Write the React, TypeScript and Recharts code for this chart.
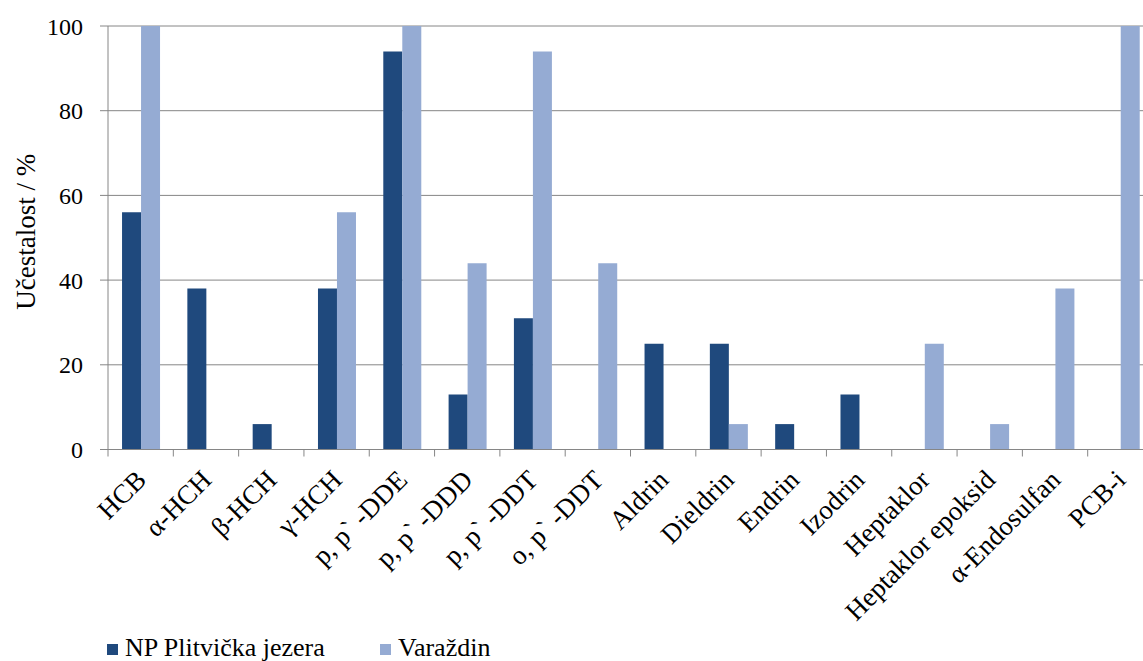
import React from 'react';
import { BarChart, Bar, XAxis, YAxis, CartesianGrid, Legend } from 'recharts';

const categories = [
  'HCB', 'α-HCH', 'β-HCH', 'γ-HCH', 'p, p` -DDE', 'p, p` -DDD', 'p, p` -DDT', 'o, p` -DDT',
  'Aldrin', 'Dieldrin', 'Endrin', 'Izodrin', 'Heptaklor', 'Heptaklor epoksid', 'α-Endosulfan', 'PCB-i',
];
const plitvice = [56, 38, 6, 38, 94, 13, 31, 0, 25, 25, 6, 13, 0, 0, 0, 0];
const varazdin = [100, 0, 0, 56, 100, 44, 94, 44, 0, 6, 0, 0, 25, 6, 38, 100];
const yTicks = [0, 20, 40, 60, 80, 100];

const FONT = '"Liberation Serif", "Times New Roman", serif';
const DARK = '#1F497D';
const LIGHT = '#95ABD3';
const AXIS = '#868686';

const data = categories.map((name, i) => ({ name, plitvice: plitvice[i], varazdin: varazdin[i] }));

// category labels rotated 45deg + tick marks between categories
const XTick = (props: any) => {
  const { x, y, payload, index } = props;
  const half = payload.offset || 0;
  const ax = x + 7;
  const ay = y + 32;
  return (
    <g>
      <line x1={x - half} x2={x - half} y1={y} y2={y + 7} stroke={AXIS} strokeWidth={1} />
      {index === categories.length - 1 && (
        <line x1={x + half} x2={x + half} y1={y} y2={y + 7} stroke={AXIS} strokeWidth={1} />
      )}
      <text x={ax} y={ay} transform={`rotate(-45, ${ax}, ${ay})`} textAnchor="end" fontSize={27} fill="#000">
        {payload.value}
      </text>
    </g>
  );
};

const YLabel = (props: any) => {
  const { viewBox } = props;
  const cx = 26;
  const cy = viewBox.y + viewBox.height / 2 - 6;
  return (
    <text
      x={cx}
      y={cy}
      transform={`rotate(-90, ${cx}, ${cy})`}
      textAnchor="middle"
      dominantBaseline="central"
      fontSize={27}
      fill="#000"
    >
      Učestalost / %
    </text>
  );
};

const legendLeft = [107, 380];

const LegendContent = (props: any) => {
  const items = props.payload || [];
  return (
    <div style={{ position: 'relative', height: 34, fontSize: 26, color: '#000' }}>
      {items.map((it: any, i: number) => (
        <React.Fragment key={i}>
          <span
            style={{ position: 'absolute', left: legendLeft[i], top: 17, width: 11, height: 11, background: it.color }}
          />
          <span style={{ position: 'absolute', left: legendLeft[i] + 18, top: 8, lineHeight: '26px', whiteSpace: 'nowrap' }}>
            {it.value}
          </span>
        </React.Fragment>
      ))}
    </div>
  );
};

export default function App() {
  return (
    <div
      style={{
        position: 'absolute',
        left: 0,
        top: 0,
        width: 1143,
        height: 661,
        overflow: 'hidden',
        background: '#fff',
        fontFamily: FONT,
      }}
    >
      <BarChart
        width={1153}
        height={661}
        data={data}
        margin={{ top: 26, right: 0, bottom: 0, left: 0 }}
        barCategoryGap="21.5%"
        barGap={0}
      >
        <CartesianGrid vertical={false} stroke={AXIS} strokeWidth={1} />
        <XAxis
          dataKey="name"
          interval={0}
          height={177.5}
          tickLine={false}
          tickSize={0}
          tickMargin={0}
          axisLine={{ stroke: AXIS, strokeWidth: 1 }}
          tick={<XTick />}
        />
        <YAxis
          width={108}
          domain={[0, 100]}
          ticks={yTicks}
          interval={0}
          tickSize={8}
          tickMargin={17}
          axisLine={{ stroke: AXIS, strokeWidth: 1 }}
          tickLine={{ stroke: AXIS, strokeWidth: 1 }}
          tick={{ fontSize: 24, fill: '#000' }}
          label={<YLabel />}
        />
        <Legend verticalAlign="bottom" content={<LegendContent />} />
        <Bar dataKey="plitvice" name="NP Plitvička jezera" fill={DARK} isAnimationActive={false} />
        <Bar dataKey="varazdin" name="Varaždin" fill={LIGHT} isAnimationActive={false} />
      </BarChart>
    </div>
  );
}
